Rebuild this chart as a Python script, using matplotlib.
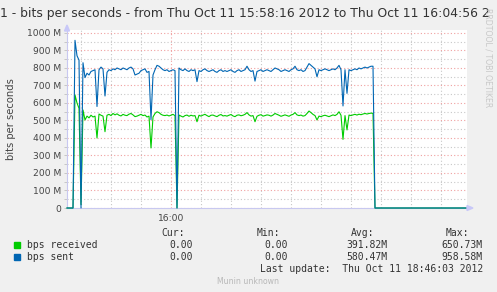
import matplotlib
matplotlib.use("Agg")
import matplotlib.pyplot as plt
import numpy as np

# seconds since 15:58:16
times = list(range(0, 312, 2)) + [400]

# bps sent, in M
sent = [0, 0, 0, 0, 958, 870, 845, 0, 830, 745,
        770, 760, 780, 785, 790, 580, 790, 805, 795, 640,
        775, 790, 785, 795, 790, 800, 795, 790, 800, 795,
        790, 800, 805, 795, 760, 765, 770, 785, 790, 795,
        775, 780, 505, 760, 790, 815, 810, 800, 790, 785,
        790, 780, 785, 790, 785, 0, 800, 790, 785, 795,
        785, 780, 790, 785, 790, 722, 785, 780, 790, 795,
        785, 780, 785, 790, 780, 775, 785, 790, 780, 785,
        780, 785, 790, 780, 775, 785, 790, 780, 785, 790,
        810, 790, 780, 785, 725, 780, 785, 790, 780, 785,
        790, 785, 780, 790, 800, 795, 790, 780, 785, 790,
        785, 780, 790, 795, 810, 790, 785, 790, 780, 785,
        805, 825, 815, 805, 795, 750, 790, 785, 790, 795,
        790, 785, 790, 795, 790, 800, 815, 790, 583, 790,
        655, 790, 785, 790, 795, 790, 800, 795, 800, 805,
        800, 805, 810, 810, 0, 0, 0]

# bps received, in M
received = [0, 0, 0, 0, 646, 600, 570, 20, 560, 503,
            525, 515, 530, 520, 525, 400, 537, 530, 525, 436,
            530, 535, 528, 540, 532, 538, 530, 526, 535, 530,
            528, 536, 540, 532, 522, 525, 530, 535, 528, 531,
            520, 525, 343, 520, 540, 550, 545, 535, 530, 528,
            531, 526, 530, 535, 528, 0, 531, 525, 520, 528,
            531, 524, 530, 526, 528, 493, 530, 525, 531, 535,
            528, 522, 530, 531, 526, 522, 530, 534, 526, 528,
            525, 530, 534, 526, 522, 530, 532, 527, 530, 535,
            545, 532, 525, 528, 493, 524, 530, 533, 525, 528,
            532, 530, 525, 531, 540, 535, 530, 524, 528, 532,
            528, 524, 531, 535, 545, 532, 528, 531, 525, 528,
            540, 554, 545, 535, 528, 503, 525, 522, 527, 530,
            526, 522, 527, 532, 528, 535, 550, 530, 392, 528,
            446, 531, 528, 532, 535, 531, 536, 533, 537, 540,
            537, 540, 542, 541, 0, 0, 0]

legend_rows = [("bps received", "0.00", "0.00", "391.82M", "650.73M"),
               ("bps sent", "0.00", "0.00", "580.47M", "958.58M")]

W, H = 497, 292
fig = plt.figure(figsize=(W / 100, H / 100), dpi=100)
fig.patch.set_facecolor("#f0f0f0")

def fx(px):
    return px / W

def fy(py):
    return 1 - py / H

ax = fig.add_axes([fx(67), fy(208), fx(400), (208 - 30) / H])
ax.set_facecolor("white")
ax.set_xlim(0, 400)
ax.set_ylim(0, 1017)

# grid
ax.set_yticks(np.arange(0, 1001, 100))
ax.set_yticks(np.arange(50, 1000, 100), minor=True)
ax.set_xticks([104])
ax.set_xticks(np.arange(14, 400, 30), minor=True)
ax.set_yticklabels(["0"] + ["%d M" % v for v in range(100, 1001, 100)])
ax.set_xticklabels(["16:00"])
ax.grid(which="minor", color="#c8c8c8", linestyle=(0, (1, 2)), linewidth=0.8)
ax.grid(which="major", color="#f0a0a0", linestyle=(0, (1, 2)), linewidth=0.8)
ax.set_axisbelow(True)
ax.tick_params(which="both", length=2, width=0.6, color="#c0c0c0",
               labelsize=6.6, labelcolor="#444444", pad=2)
ax.tick_params(axis="x", which="both", length=0, pad=4)

for s in ["top", "right"]:
    ax.spines[s].set_visible(False)
for s in ["left", "bottom"]:
    ax.spines[s].set_color("#c8c8f0")
    ax.spines[s].set_linewidth(0.8)

ax.plot(times, received, color="#00cc00", linewidth=0.8, clip_on=False, zorder=3)
ax.plot(times, sent, color="#0066b3", linewidth=0.8, clip_on=False, zorder=4)

# axis arrows
fig.patches.append(plt.Polygon([[fx(64.5), fy(31)], [fx(69.5), fy(31)], [fx(67), fy(25)]],
                               closed=True, transform=fig.transFigure,
                               color="#c8c8f8", zorder=5))
fig.patches.append(plt.Polygon([[fx(467), fy(205.5)], [fx(467), fy(210.5)], [fx(473), fy(208)]],
                               closed=True, transform=fig.transFigure,
                               color="#c8c8f8", zorder=5))

ax.set_ylabel("bits per seconds", fontsize=7.2, color="#444444", labelpad=8)

fig.text(fx(0), fy(14), "1 - bits per seconds - from Thu Oct 11 15:58:16 2012 to Thu Oct 11 16:04:56 2",
         fontsize=8.9, color="#333333", ha="left", va="center")
fig.text(fx(488), fy(107), "RRDTOOL / TOBI OETIKER", rotation=270, fontsize=5.6,
         color="#c8c8c8", ha="center", va="bottom")

mono = "DejaVu Sans Mono"
fs = 7.0
txt = "#333333"
for x, h in zip([185, 280, 374, 469], ["Cur:", "Min:", "Avg:", "Max:"]):
    fig.text(fx(x), fy(233), h, family=mono, fontsize=fs, color=txt, ha="right", va="center")

colors = ["#00cc00", "#0066b3"]
for i, row in enumerate(legend_rows):
    y = 245 + 12 * i
    fig.patches.append(plt.Rectangle((fx(14), fy(y + 3)), fx(6), 6 / H,
                                     transform=fig.transFigure, color=colors[i]))
    fig.text(fx(27), fy(y), row[0], family=mono, fontsize=fs, color=txt, ha="left", va="center")
    for x, v in zip([193, 288, 387, 483], row[1:]):
        fig.text(fx(x), fy(y), v, family=mono, fontsize=fs, color=txt, ha="right", va="center")

fig.text(fx(483), fy(269), "Last update:  Thu Oct 11 18:46:03 2012", family=mono,
         fontsize=fs, color=txt, ha="right", va="center")
fig.text(fx(248), fy(281), "Munin unknown", fontsize=5.6, color="#b8b8b8",
         ha="center", va="center")

fig.savefig("out.png", dpi=100, facecolor=fig.get_facecolor())
